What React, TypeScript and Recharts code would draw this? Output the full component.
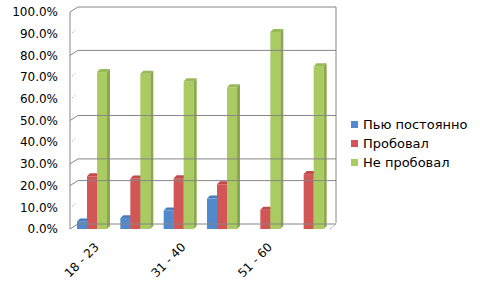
import React from "react";
import { BarChart, Bar, XAxis, YAxis, ReferenceLine } from "recharts";

const categories = ["18 - 23", "24 - 30", "31 - 40", "41 - 50", "51 - 60", "60+"];
const drinkRegularly = [3.5, 5.0, 8.5, 14.0, 0, 0];
const tried = [24.3, 23.3, 23.4, 20.6, 8.9, 25.3];
const neverTried = [72.3, 71.6, 68.1, 65.3, 90.8, 75.0];
const yTicks = [0, 10, 20, 30, 40, 50, 60, 70, 80, 90, 100];
const shownGrid = [20, 30, 50, 80];

const series = [
  { key: "drink", name: "Пью постоянно", front: "#5288CC", top: "#4A7DBD", side: "#3F6EA8" },
  { key: "tried", name: "Пробовал", front: "#D35656", top: "#C04B4B", side: "#AE4444" },
  { key: "never", name: "Не пробовал", front: "#A9CB62", top: "#98B957", side: "#8BA84E" },
];

const data = categories.map((c, i) => ({
  name: c,
  drink: drinkRegularly[i],
  tried: tried[i],
  never: neverTried[i],
}));

const FONT = "DejaVu Sans, sans-serif";
const WALL_DX = 8;
const WALL_DY = 5;
const DEPTH = 3;
const PLOT_H = 216;

const Bar3D = (color: { front: string; top: string; side: string }) => (props: any) => {
  const { x, y, width, height } = props;
  if (!height || height < 0.5) return null;
  const d = DEPTH;
  return (
    <g>
      <rect x={x} y={y} width={width} height={height} fill={color.front} />
      <path d={`M${x},${y} L${x + d},${y - d} L${x + width + d},${y - d} L${x + width},${y} Z`} fill={color.top} />
      <path d={`M${x + width},${y} L${x + width + d},${y - d} L${x + width + d},${y + height - d} L${x + width},${y + height} Z`} fill={color.side} />
    </g>
  );
};

// back-wall gridlines; only some of them are drawn in full, as in the source picture
const gridShape = (full: boolean) => (p: any) => {
  const { x1, y1, x2 } = p;
  if (!full) {
    return <path d={`M${x1 + 2},${y1 - 1} L${x1 + 6},${y1 - 4}`} stroke="#9a9a9a" strokeWidth={1} strokeDasharray="1 2" fill="none" />;
  }
  return (
    <path d={`M${x1},${y1} L${x1 + WALL_DX},${y1 - WALL_DY} L${x2 + 6},${y1 - WALL_DY}`} stroke="#868686" strokeWidth={1} fill="none" />
  );
};

const topShape = (p: any) => {
  const { x1, y1, x2 } = p;
  return (
    <path
      d={`M${x1},${y1} L${x1 + WALL_DX},${y1 - WALL_DY} L${x2 + 6},${y1 - WALL_DY} L${x2 + 6},${y1 - WALL_DY + PLOT_H}`}
      stroke="#868686"
      strokeWidth={1}
      fill="none"
    />
  );
};

const floorShape = (p: any) => {
  const { x1, y1, x2 } = p;
  return (
    <g fill="none" strokeWidth={1}>
      <path d={`M${x1},${y1} L${x1 + WALL_DX},${y1 - WALL_DY} L${x2 + 6},${y1 - WALL_DY}`} stroke="#868686" />
      <path d={`M${x2},${y1} L${x2 + 6},${y1 - WALL_DY}`} stroke="#868686" strokeDasharray="1 1" />
    </g>
  );
};

const XTick = (props: any) => {
  const { x, y, payload } = props;
  return (
    <g transform={`translate(${x + 5},${y})`}>
      <text transform="rotate(-45)" textAnchor="end" dy="0.35em" fontSize={12} fontFamily={FONT} fill="#000">
        {payload.value}
      </text>
    </g>
  );
};

function ChartLegend() {
  return (
    <div style={{ position: "absolute", left: 351, top: 115, fontFamily: FONT, fontSize: 13, color: "#000" }}>
      {series.map((s) => (
        <div key={s.key} style={{ display: "flex", alignItems: "center", height: 19 }}>
          <span style={{ width: 7, height: 7, background: s.front, marginRight: 5, display: "inline-block" }} />
          <span>{s.name}</span>
        </div>
      ))}
    </div>
  );
}

export default function App() {
  return (
    <div style={{ position: "absolute", left: 0, top: 0, width: 480, height: 288, background: "#fff" }}>
      <BarChart
        width={480}
        height={288}
        data={data}
        margin={{ top: 12, right: 150, left: 0, bottom: 4 }}
        barSize={10}
        barGap={0}
        barCategoryGap={0}
      >
        <XAxis
          dataKey="name"
          axisLine={false}
          tickLine={false}
          interval={1}
          height={55}
          tickMargin={10}
          tick={<XTick />}
        />
        <YAxis
          domain={[0, 100]}
          ticks={yTicks}
          width={70}
          interval={0}
          axisLine={{ stroke: "#868686" }}
          tickLine={false}
          tickSize={0}
          tickMargin={12}
          tick={{ fontSize: 12, fontFamily: FONT, fill: "#000" }}
          tickFormatter={(v: number) => `${v.toFixed(1)}%`}
        />
        {yTicks.filter((t) => t > 0 && t < 100).map((t) => (
          <ReferenceLine key={t} y={t} shape={gridShape(shownGrid.includes(t))} />
        ))}
        <ReferenceLine y={100} shape={topShape} />
        <ReferenceLine y={0} shape={floorShape} />
        {series.map((s) => (
          <Bar key={s.key} dataKey={s.key} name={s.name} fill={s.front} isAnimationActive={false} shape={Bar3D(s)} />
        ))}
      </BarChart>
      <ChartLegend />
    </div>
  );
}
